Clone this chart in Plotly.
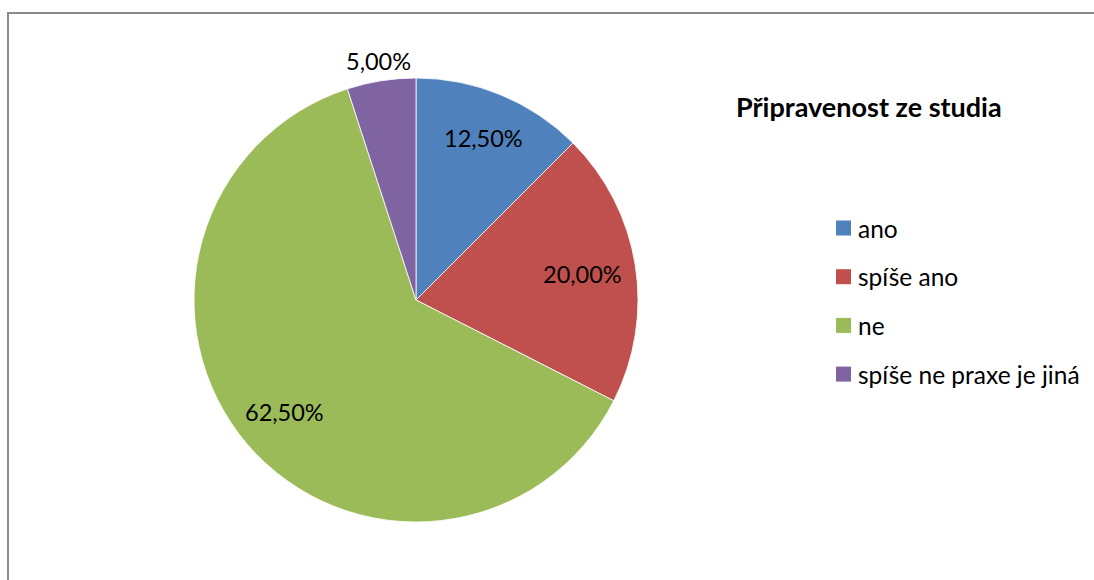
import math
import plotly.graph_objects as go

# Survey answers and their shares (percent)
labels = ["ano", "spíše ano", "ne", "spíše ne praxe je jiná"]
values = [12.5, 20.0, 62.5, 5.0]
colors = ["#4F81BD", "#C0504D", "#9BBB59", "#8064A2"]
title_text = "Připravenost ze studia"

W, H = 1094, 580
FONT = "Lato"

# Pie placement in pixels
cx, cy, R = 416, 300, 222

fig = go.Figure(
    go.Pie(
        labels=labels,
        values=values,
        sort=False,
        direction="clockwise",
        rotation=0,
        marker=dict(colors=colors, line=dict(color="#ffffff", width=0.8)),
        textinfo="none",
        hoverinfo="label+percent",
        showlegend=False,
        domain=dict(
            x=[(cx - R) / W, (cx + R) / W],
            y=[1 - (cy + R) / H, 1 - (cy - R) / H],
        ),
    )
)

def px(x):
    return x / W

def py(y):
    return 1 - y / H

# Data labels placed along each slice's mid-angle
total = sum(values)
label_radius = [0.79, 0.76, 0.78, 1.09]
cum = 0.0
annotations = []
for v, rf in zip(values, label_radius):
    mid = (cum + v / 2) / total * 2 * math.pi
    cum += v
    lx = cx + rf * R * math.sin(mid)
    ly = cy - rf * R * math.cos(mid)
    txt = f"{v / total * 100:.2f}".replace(".", ",") + "%"
    annotations.append(
        dict(
            x=px(lx), y=py(ly), xref="paper", yref="paper",
            text=txt, showarrow=False,
            font=dict(family=FONT, size=23.5, color="#000000"),
            xanchor="center", yanchor="middle",
        )
    )

# Title
annotations.append(
    dict(
        x=px(734), y=py(107), xref="paper", yref="paper",
        text=f"<b>{title_text}</b>", showarrow=False,
        font=dict(family=FONT, size=27, color="#000000"),
        xanchor="left", yanchor="middle",
    )
)

# Legend drawn as colour squares with text
shapes = []
leg_y0, leg_step = 228, 48.7
for i, (lab, col) in enumerate(zip(labels, colors)):
    y = leg_y0 + i * leg_step
    shapes.append(
        dict(
            type="rect", xref="paper", yref="paper",
            x0=px(836), x1=px(851), y0=py(y - 7.5), y1=py(y + 7.5),
            fillcolor=col, line=dict(width=0),
        )
    )
    annotations.append(
        dict(
            x=px(856), y=py(y), xref="paper", yref="paper",
            text=lab, showarrow=False,
            font=dict(family=FONT, size=24.5, color="#000000"),
            xanchor="left", yanchor="middle",
        )
    )

# Chart area frame
shapes.append(
    dict(
        type="rect", xref="paper", yref="paper",
        x0=px(8), x1=px(W + 20), y0=py(H + 20), y1=py(13),
        line=dict(color="#8a8a8a", width=2), fillcolor="rgba(0,0,0,0)",
    )
)

fig.update_layout(
    width=W, height=H,
    margin=dict(l=0, r=0, t=0, b=0),
    paper_bgcolor="#ffffff",
    plot_bgcolor="#ffffff",
    separators=", ",
    annotations=annotations,
    shapes=shapes,
)

fig.write_html("out.html")
